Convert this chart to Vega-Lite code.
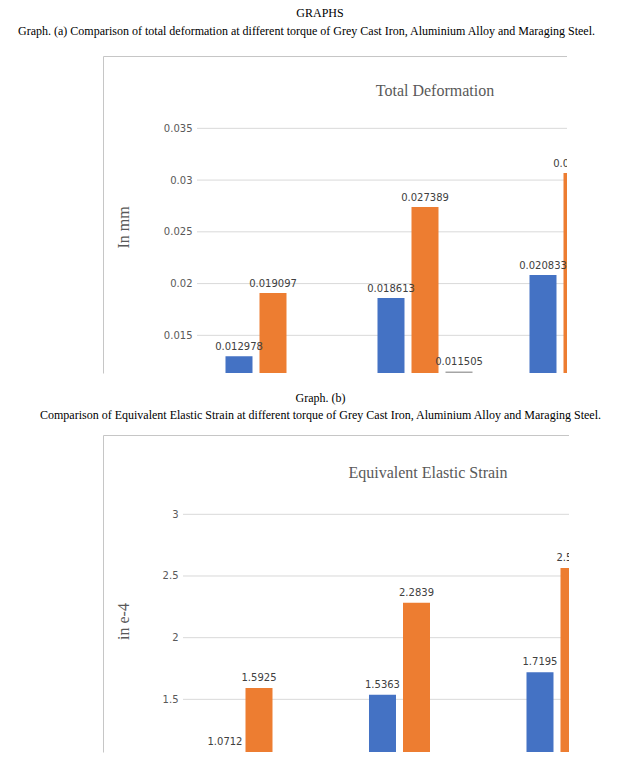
{
  "$schema": "https://vega.github.io/schema/vega-lite/v6.json",
  "background": "white",
  "padding": {"left": 16, "top": 7, "right": 5, "bottom": 20},
  "spacing": 10,
  "config": {"view": {"stroke": null}},
  "datasets": {
    "deformation": [
      {"torque": "T1", "material": "Grey Cast Iron", "value": 0.012978},
      {"torque": "T1", "material": "Aluminium Alloy", "value": 0.019097},
      {"torque": "T1", "material": "Maraging Steel", "value": 0.0082},
      {"torque": "T2", "material": "Grey Cast Iron", "value": 0.018613},
      {"torque": "T2", "material": "Aluminium Alloy", "value": 0.027389},
      {"torque": "T2", "material": "Maraging Steel", "value": 0.011505},
      {"torque": "T3", "material": "Grey Cast Iron", "value": 0.020833},
      {"torque": "T3", "material": "Aluminium Alloy", "value": 0.030675},
      {"torque": "T3", "material": "Maraging Steel", "value": 0.0139}
    ],
    "strain": [
      {"torque": "T1", "material": "Grey Cast Iron", "value": 1.0712},
      {"torque": "T1", "material": "Aluminium Alloy", "value": 1.5925},
      {"torque": "T1", "material": "Maraging Steel", "value": 0.71},
      {"torque": "T2", "material": "Grey Cast Iron", "value": 1.5363},
      {"torque": "T2", "material": "Aluminium Alloy", "value": 2.2839},
      {"torque": "T2", "material": "Maraging Steel", "value": 0.91},
      {"torque": "T3", "material": "Grey Cast Iron", "value": 1.7195},
      {"torque": "T3", "material": "Aluminium Alloy", "value": 2.5648},
      {"torque": "T3", "material": "Maraging Steel", "value": 1.0}
    ],
    "grid1": [
      {"tick": 0.015, "kind": "grid"}, {"tick": 0.02, "kind": "grid"}, {"tick": 0.025, "kind": "grid"},
      {"tick": 0.03, "kind": "grid"}, {"tick": 0.035, "kind": "grid"}, {"tick": 0.04194, "kind": "border"}
    ],
    "grid2": [
      {"tick": 1.5, "kind": "grid"}, {"tick": 2, "kind": "grid"}, {"tick": 2.5, "kind": "grid"},
      {"tick": 3, "kind": "grid"}, {"tick": 3.639, "kind": "border"}
    ]
  },
  "vconcat": [
    {
      "width": 384,
      "height": 317,
      "data": {"name": "deformation"},
      "title": {
        "text": "GRAPHS",
        "anchor": "middle",
        "frame": "group",
        "dx": -55,
        "offset": 4,
        "font": "Liberation Serif",
        "fontSize": 12,
        "fontWeight": "normal",
        "color": "black"
      },
      "resolve": {"axis": {"x": "independent", "y": "independent"}},
      "layer": [
        {
          "data": {"name": "grid1"},
          "mark": {"type": "rule", "clip": true, "strokeWidth": 1},
          "encoding": {
            "y": {"field": "tick", "type": "quantitative", "axis": null,
                  "scale": {"domain": [0.01136, 0.04199], "nice": false, "zero": false}},
            "x": {"datum": "T1", "type": "nominal", "bandPosition": 0, "axis": null,
                  "scale": {"domain": ["T1", "T2", "T3"], "range": [14, 470], "paddingInner": 0, "paddingOuter": 0}},
            "x2": {"datum": "T3"},
            "stroke": {"field": "kind", "type": "nominal",
                       "scale": {"domain": ["grid", "border"], "range": ["#d9d9d9", "#c6c6c6"]}, "legend": null}
          }
        },
        {
          "mark": {"type": "bar", "clip": true},
          "encoding": {
            "x": {"field": "torque", "type": "nominal",
                  "scale": {"domain": ["T1", "T2", "T3"], "range": [14, 470], "paddingInner": 0, "paddingOuter": 0},
                  "axis": {"orient": "bottom", "labels": false, "ticks": false, "domain": false, "grid": false,
                           "title": ["Graph. (b)", "Comparison of Equivalent Elastic Strain at different torque of Grey Cast Iron, Aluminium Alloy and Maraging Steel."],
                           "titleX": 137, "titleY": 28, "titleAlign": "center", "titleBaseline": "alphabetic",
                           "titleFont": "Liberation Serif", "titleFontSize": 12, "titleFontWeight": "normal",
                           "titleColor": "black", "titleLineHeight": 17}},
            "xOffset": {"field": "material", "type": "nominal",
                        "scale": {"domain": ["Grey Cast Iron", "Aluminium Alloy", "Maraging Steel"], "paddingInner": 0.206, "paddingOuter": 0.838}},
            "y": {"field": "value", "type": "quantitative",
                  "scale": {"domain": [0.01136, 0.04199], "nice": false, "zero": false},
                  "axis": {
                    "values": [0.015, 0.02, 0.025, 0.03, 0.035, 0.04199],
                    "format": "~g",
                    "labelExpr": "datum.value > 0.04 ? '' : datum.label",
                    "offset": 80,
                    "domain": true, "domainColor": "#c6c6c6", "domainWidth": 1,
                    "ticks": true, "tickSize": -94, "tickColor": "#c6c6c6",
                    "tickOpacity": {"condition": {"test": "datum.value > 0.04", "value": 1}, "value": 0},
                    "grid": false,
                    "labelPadding": 5, "labelFont": "DejaVu Sans", "labelFontSize": 10, "labelColor": "#595959",
                    "labelOverlap": false, "labelFlush": false,
                    "title": "In mm", "titleFont": "Liberation Serif", "titleFontSize": 16, "titleFontWeight": "normal",
                    "titleColor": "#595959", "titleAngle": 270, "titleX": 25, "titleY": 171,
                    "titleAlign": "center", "titleBaseline": "alphabetic"
                  }},
            "color": {"field": "material", "type": "nominal",
                      "scale": {"domain": ["Grey Cast Iron", "Aluminium Alloy", "Maraging Steel"], "range": ["#4472C4", "#ED7D31", "#A5A5A5"]},
                      "legend": null}
          }
        },
        {
          "transform": [{"filter": "datum.value > 0.0112 && datum.value < 0.0135 || datum.value > 0.0145"}],
          "mark": {"type": "text", "clip": true, "dy": -6, "baseline": "alphabetic", "align": "center",
                   "font": "DejaVu Sans", "fontSize": 10, "color": "#404040"},
          "encoding": {
            "x": {"field": "torque", "type": "nominal",
                  "scale": {"domain": ["T1", "T2", "T3"], "range": [14, 470], "paddingInner": 0, "paddingOuter": 0},
                  "axis": {"orient": "top", "labels": false, "ticks": false, "domain": false, "grid": false,
                           "title": "Total Deformation", "titleX": 251.5, "titleY": 39,
                           "titleAlign": "center", "titleBaseline": "alphabetic",
                           "titleFont": "Liberation Serif", "titleFontSize": 16, "titleFontWeight": "normal",
                           "titleColor": "#595959"}},
            "xOffset": {"field": "material", "type": "nominal",
                        "scale": {"domain": ["Grey Cast Iron", "Aluminium Alloy", "Maraging Steel"], "paddingInner": 0.206, "paddingOuter": 0.838}},
            "y": {"field": "value", "type": "quantitative",
                  "scale": {"domain": [0.01136, 0.04199], "nice": false, "zero": false},
                  "axis": {"orient": "left", "labels": false, "ticks": false, "domain": false, "grid": false,
                           "title": "Graph. (a) Comparison of total deformation at different torque of Grey Cast Iron, Aluminium Alloy and Maraging Steel.",
                           "titleAngle": 0, "titleX": 123, "titleY": -22, "titleAlign": "center", "titleBaseline": "alphabetic",
                           "titleFont": "Liberation Serif", "titleFontSize": 12, "titleFontWeight": "normal",
                           "titleColor": "black"}},
            "text": {"field": "value", "type": "quantitative", "format": "~g"}
          }
        }
      ]
    },
    {
      "width": 386,
      "height": 317,
      "data": {"name": "strain"},
      "resolve": {"axis": {"x": "independent", "y": "independent"}},
      "layer": [
        {
          "data": {"name": "grid2"},
          "mark": {"type": "rule", "clip": true, "strokeWidth": 1},
          "encoding": {
            "y": {"field": "tick", "type": "quantitative", "axis": null,
                  "scale": {"domain": [1.073, 3.643], "nice": false, "zero": false}},
            "x": {"datum": "T1", "type": "nominal", "bandPosition": 0, "axis": null,
                  "scale": {"domain": ["T1", "T2", "T3"], "range": [0, 472.5], "paddingInner": 0, "paddingOuter": 0}},
            "x2": {"datum": "T3"},
            "stroke": {"field": "kind", "type": "nominal",
                       "scale": {"domain": ["grid", "border"], "range": ["#d9d9d9", "#c6c6c6"]}, "legend": null}
          }
        },
        {
          "mark": {"type": "bar", "clip": true},
          "encoding": {
            "x": {"field": "torque", "type": "nominal",
                  "scale": {"domain": ["T1", "T2", "T3"], "range": [0, 472.5], "paddingInner": 0, "paddingOuter": 0},
                  "axis": {"orient": "top", "labels": false, "ticks": false, "domain": false, "grid": false,
                           "title": "Equivalent Elastic Strain", "titleX": 244.5, "titleY": 42,
                           "titleAlign": "center", "titleBaseline": "alphabetic",
                           "titleFont": "Liberation Serif", "titleFontSize": 16, "titleFontWeight": "normal",
                           "titleColor": "#595959"}},
            "xOffset": {"field": "material", "type": "nominal",
                        "scale": {"domain": ["Grey Cast Iron", "Aluminium Alloy", "Maraging Steel"], "paddingInner": 0.2286, "paddingOuter": 0.864}},
            "y": {"field": "value", "type": "quantitative",
                  "scale": {"domain": [1.073, 3.643], "nice": false, "zero": false},
                  "axis": {
                    "values": [1.5, 2, 2.5, 3, 3.643],
                    "format": "~g",
                    "labelExpr": "datum.value > 3.6 ? '' : datum.label",
                    "offset": 80,
                    "domain": true, "domainColor": "#c6c6c6", "domainWidth": 1,
                    "ticks": true, "tickSize": -80, "tickColor": "#c6c6c6",
                    "tickOpacity": {"condition": {"test": "datum.value > 3.6", "value": 1}, "value": 0},
                    "grid": false,
                    "labelPadding": 5, "labelFont": "DejaVu Sans", "labelFontSize": 10, "labelColor": "#595959",
                    "labelOverlap": false, "labelFlush": false,
                    "title": "in e-4", "titleFont": "Liberation Serif", "titleFontSize": 16, "titleFontWeight": "normal",
                    "titleColor": "#595959", "titleAngle": 270, "titleX": 25, "titleY": 186,
                    "titleAlign": "center", "titleBaseline": "alphabetic"
                  }},
            "color": {"field": "material", "type": "nominal",
                      "scale": {"domain": ["Grey Cast Iron", "Aluminium Alloy", "Maraging Steel"], "range": ["#4472C4", "#ED7D31", "#A5A5A5"]},
                      "legend": null}
          }
        },
        {
          "transform": [{"filter": "datum.value > 1.05"}],
          "mark": {"type": "text", "clip": true, "dy": -7, "baseline": "alphabetic", "align": "center",
                   "font": "DejaVu Sans", "fontSize": 10, "color": "#404040"},
          "encoding": {
            "x": {"field": "torque", "type": "nominal",
                  "scale": {"domain": ["T1", "T2", "T3"], "range": [0, 472.5], "paddingInner": 0, "paddingOuter": 0},
                  "axis": null},
            "xOffset": {"field": "material", "type": "nominal",
                        "scale": {"domain": ["Grey Cast Iron", "Aluminium Alloy", "Maraging Steel"], "paddingInner": 0.2286, "paddingOuter": 0.864}},
            "y": {"field": "value", "type": "quantitative",
                  "scale": {"domain": [1.073, 3.643], "nice": false, "zero": false}, "axis": null},
            "text": {"field": "value", "type": "quantitative", "format": "~g"}
          }
        }
      ]
    }
  ]
}
